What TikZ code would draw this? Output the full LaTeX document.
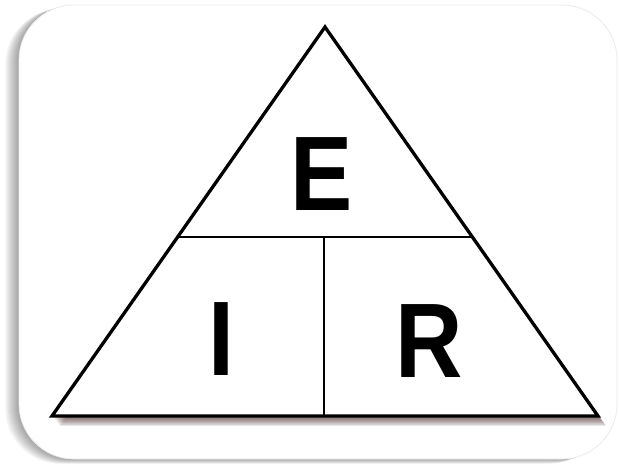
\documentclass[tikz,border=0pt]{standalone}
\usepackage{fontspec}
\setmainfont{Liberation Sans}
\usetikzlibrary{calc}
\definecolor{shadowc}{RGB}{70,40,40}
\tikzset{
  tri/.style={draw=black, line width=3.3pt, line join=miter},
  divider/.style={draw=black, line width=2.8pt},
  letter/.style={inner sep=0pt, anchor=base, xscale=0.88, font=\fontsize{106}{106}\selectfont\bfseries}
}
\begin{document}
\begin{tikzpicture}[x=1pt,y=-1pt]
\useasboundingbox (0,0) rectangle (619,464);
\fill[white] (0,0) rectangle (619,464);
% card shadow
\foreach \i in {1,...,14}{
  \fill[black, opacity=0.028, rounded corners=55pt] ({19-\i},{5+0.3*\i}) rectangle ({617-\i},{459+0.35*\i});
}
\fill[white, rounded corners=55pt] (19,5) rectangle (617,459);
\draw[black!8, line width=0.8pt, rounded corners=55pt] (19,5) rectangle (617,459);
% triangle corners
\coordinate (A) at (325,27);
\coordinate (B) at (52,416);
\coordinate (C) at (598,416);
\coordinate (L) at ($(A)!0.54!(B)$);
\coordinate (R) at ($(A)!0.54!(C)$);
\coordinate (M) at (324,237);
\coordinate (N) at (324,416);
% triangle shadow
\foreach \i in {1,...,9}{
  \fill[shadowc, opacity=0.11] ([shift={({0.9*\i},{1.1*\i})}]A) -- ([shift={({0.9*\i},{1.1*\i})}]B) -- ([shift={({0.9*\i},{1.1*\i})}]C) -- cycle;
}
\fill[white] (A) -- (B) -- (C) -- cycle;
\draw[tri] (A) -- (B) -- (C) -- cycle;
\draw[divider] (L) -- (R);
\draw[divider] (M) -- (N);
\node[letter] (e) at (321.5,210) {E};
\node[letter] (i) at (221,375) {I};
\node[letter] (r) at (429,377) {R};
\end{tikzpicture}
\end{document}
